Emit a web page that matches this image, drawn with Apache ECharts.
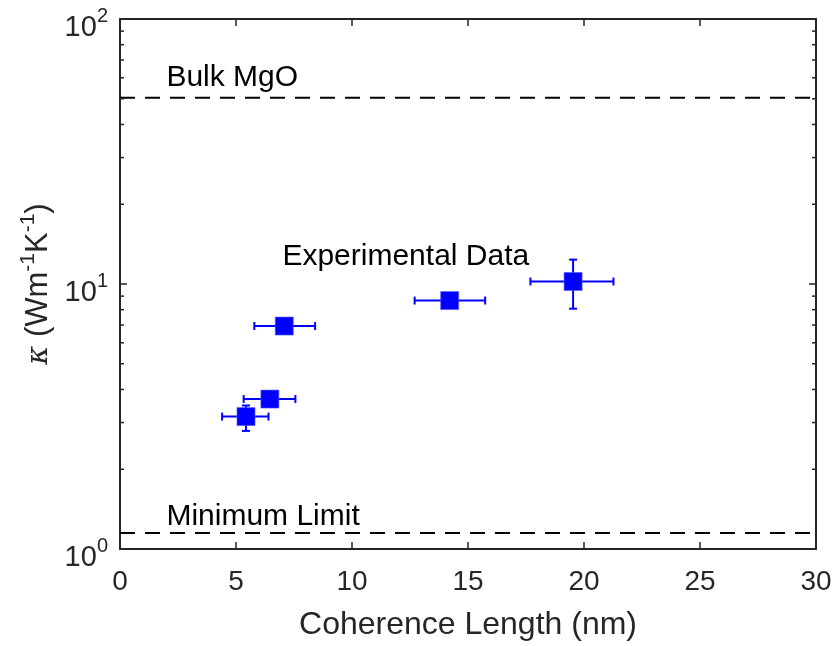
<!DOCTYPE html>
<html>
<head>
<meta charset="utf-8">
<script src="https://cdn.jsdelivr.net/npm/echarts@6/dist/echarts.min.js"></script>
<style>html,body{margin:0;padding:0;background:#fff}#c{width:835px;height:646px}</style>
</head>
<body>
<div id="c"></div>
<script>
// ---- data ----
var coherenceLength = [5.43, 6.46, 7.08, 14.21, 19.53];      // nm
var kappa           = [3.16, 3.68, 6.94, 8.66, 10.22];       // W m^-1 K^-1
var xErrLow         = [4.40, 5.33, 5.79, 12.70, 17.69];
var xErrHigh        = [6.40, 7.56, 8.41, 15.74, 21.27];
var yErrLow         = [2.79, 3.68, 6.94, 8.66, 8.07];
var yErrHigh        = [3.48, 3.68, 6.94, 8.66, 12.36];
var bulkMgO         = 50.5;
var minimumLimit    = 1.15;
var xTicks          = [0, 5, 10, 15, 20, 25, 30];
var yMajorTicks     = [1, 10, 100];
var yMinorTicks     = [2, 3, 4, 5, 6, 7, 8, 9, 20, 30, 40, 50, 60, 70, 80, 90];
var annotations     = ['Bulk MgO', 'Experimental Data', 'Minimum Limit'];
var annotationX     = [2.0, 7.0, 2.0];
var annotationY     = [60, 12.7, 1.32];

var FONT = 'Liberation Sans, Arial, Helvetica, sans-serif';
var AX = '#262626';
var BLUE = '#0000ff';

var chart = echarts.init(document.getElementById('c'), null, {renderer: 'canvas'});

var errData = coherenceLength.map(function (x, i) {
  return [x, kappa[i], xErrLow[i], xErrHigh[i], yErrLow[i], yErrHigh[i]];
});

var expo = {1: '0', 10: '1', 100: '2'};

var option = {
  animation: false,
  backgroundColor: '#fff',
  grid: {left: 120, right: 19, top: 19, bottom: 94, containLabel: false},
  xAxis: [{
    type: 'value', min: 0, max: 30, interval: 5, position: 'bottom',
    name: 'Coherence Length (nm)', nameLocation: 'middle', nameGap: 60,
    nameTextStyle: {fontFamily: FONT, fontSize: 32, color: AX},
    axisLine: {show: true, onZero: false, lineStyle: {color: AX, width: 2}},
    axisTick: {show: true, inside: true, length: 7, lineStyle: {color: AX, width: 1.5}},
    axisLabel: {fontFamily: FONT, fontSize: 28, color: AX, margin: 19,
      formatter: function (v) { return xTicks.indexOf(v) >= 0 ? String(v) : ''; }},
    splitLine: {show: false}
  }, {
    type: 'value', min: 0, max: 30, interval: 5, position: 'top',
    axisLine: {show: true, onZero: false, lineStyle: {color: AX, width: 2}},
    axisTick: {show: true, inside: true, length: 7, lineStyle: {color: AX, width: 1.5}},
    axisLabel: {show: false}, splitLine: {show: false}
  }],
  yAxis: [{
    type: 'log', logBase: 10, min: 1, max: 100, position: 'left',
    name: '{k|κ}{t| (Wm}{s|-1}{t|K}{s|-1}{t|)}', nameLocation: 'middle', nameRotate: 90, nameGap: 66,
    nameTextStyle: {fontFamily: FONT, fontSize: 31, color: AX,
      rich: {
        k: {fontFamily: 'DejaVu Serif, serif', fontStyle: 'italic', fontSize: 29, color: AX, lineHeight: 36, verticalAlign: 'bottom'},
        t: {fontFamily: FONT, fontSize: 31, color: AX, lineHeight: 36, verticalAlign: 'bottom'},
        s: {fontFamily: FONT, fontSize: 21, color: AX, verticalAlign: 'top', lineHeight: 16}
      }},
    axisLine: {show: true, onZero: false, lineStyle: {color: AX, width: 2}},
    axisTick: {show: true, inside: true, length: 7, lineStyle: {color: AX, width: 1.5}},
    axisLabel: {fontFamily: FONT, fontSize: 28, color: AX, margin: 12, padding: [10, 0, 0, 0],
      formatter: function (v) {
        var r = Math.round(v);
        return yMajorTicks.indexOf(r) >= 0 ? '{b|10}{s|' + expo[r] + '}' : '';
      },
      rich: {
        b: {fontFamily: FONT, fontSize: 29, color: AX, lineHeight: 36, verticalAlign: 'bottom'},
        s: {fontFamily: FONT, fontSize: 20, color: AX, lineHeight: 16, verticalAlign: 'top'}
      }},
    splitLine: {show: false}
  }, {
    type: 'log', logBase: 10, min: 1, max: 100, position: 'right',
    axisLine: {show: true, onZero: false, lineStyle: {color: AX, width: 2}},
    axisTick: {show: true, inside: true, length: 7, lineStyle: {color: AX, width: 1.5}},
    axisLabel: {show: false}, splitLine: {show: false}
  }],
  series: [
    // minor ticks on log axis (left and right)
    {
      type: 'custom', silent: true, clip: false, z: 3,
      data: yMinorTicks.map(function (v) { return [v]; }),
      renderItem: function (params, api) {
        var v = api.value(0);
        var l = api.coord([0, v]);
        var r = api.coord([30, v]);
        var st = {stroke: AX, lineWidth: 1.5};
        return {type: 'group', children: [
          {type: 'line', shape: {x1: l[0], y1: l[1], x2: l[0] + 4, y2: l[1]}, style: st},
          {type: 'line', shape: {x1: r[0], y1: r[1], x2: r[0] - 4, y2: r[1]}, style: st}
        ]};
      },
      encode: {y: 0}
    },
    // Bulk MgO line
    {
      type: 'line', data: [[0, bulkMgO], [30, bulkMgO]], symbol: 'none', silent: true,
      lineStyle: {color: '#000', width: 2, type: [15, 10]}, z: 2
    },
    // Minimum limit line
    {
      type: 'line', data: [[0, minimumLimit], [30, minimumLimit]], symbol: 'none', silent: true,
      lineStyle: {color: '#000', width: 2, type: [15, 10]}, z: 2
    },
    // error bars
    {
      type: 'custom', silent: true, clip: false, z: 4,
      data: errData,
      renderItem: function (params, api) {
        var c = api.coord([api.value(0), api.value(1)]);
        var xl = api.coord([api.value(2), api.value(1)]);
        var xh = api.coord([api.value(3), api.value(1)]);
        var yl = api.coord([api.value(0), api.value(4)]);
        var yh = api.coord([api.value(0), api.value(5)]);
        var st = {stroke: BLUE, lineWidth: 2};
        var cap = 4;
        var ch = [
          {type: 'line', shape: {x1: xl[0], y1: c[1], x2: xh[0], y2: c[1]}, style: st},
          {type: 'line', shape: {x1: xl[0], y1: c[1] - cap, x2: xl[0], y2: c[1] + cap}, style: st},
          {type: 'line', shape: {x1: xh[0], y1: c[1] - cap, x2: xh[0], y2: c[1] + cap}, style: st}
        ];
        if (Math.abs(yl[1] - yh[1]) > 1) {
          ch.push({type: 'line', shape: {x1: c[0], y1: yl[1], x2: c[0], y2: yh[1]}, style: st});
          ch.push({type: 'line', shape: {x1: c[0] - cap, y1: yl[1], x2: c[0] + cap, y2: yl[1]}, style: st});
          ch.push({type: 'line', shape: {x1: c[0] - cap, y1: yh[1], x2: c[0] + cap, y2: yh[1]}, style: st});
        }
        return {type: 'group', children: ch};
      },
      encode: {x: 0, y: 1}
    },
    // markers
    {
      type: 'scatter', symbol: 'rect', symbolSize: 18, z: 5,
      itemStyle: {color: BLUE, opacity: 1, borderColor: '#5555ff', borderWidth: 0.6},
      data: coherenceLength.map(function (x, i) { return [x, kappa[i]]; })
    },
    // annotations
    {
      type: 'custom', silent: true, clip: false, z: 6,
      data: annotations.map(function (t, i) { return [annotationX[i], annotationY[i], i]; }),
      renderItem: function (params, api) {
        var p = api.coord([api.value(0), api.value(1)]);
        return {type: 'text', x: p[0], y: p[1], style: {
          text: annotations[api.value(2)], fill: '#000', font: '30px ' + FONT,
          textAlign: 'left', textVerticalAlign: 'middle'}};
      },
      encode: {x: 0, y: 1}
    }
  ]
};
chart.setOption(option);
</script>
</body>
</html>
